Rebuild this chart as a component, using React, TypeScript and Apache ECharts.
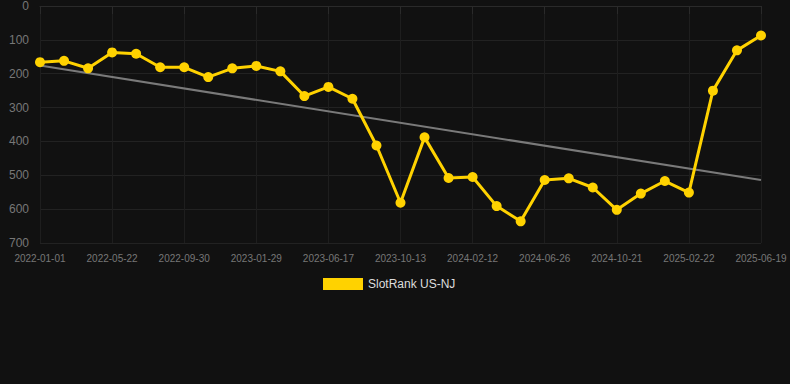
import React, { useEffect, useRef } from "react";
import * as echarts from "echarts";

const categories: string[] = [
  "2022-01-01", "2022-02-17", "2022-04-05", "2022-05-22", "2022-07-05", "2022-08-17",
  "2022-09-30", "2022-11-09", "2022-12-19", "2023-01-29", "2023-03-15", "2023-05-01",
  "2023-06-17", "2023-07-27", "2023-09-04", "2023-10-13", "2023-11-23", "2024-01-02",
  "2024-02-12", "2024-03-28", "2024-05-12", "2024-06-26", "2024-08-04", "2024-09-12",
  "2024-10-21", "2024-12-01", "2025-01-11", "2025-02-22", "2025-04-01", "2025-05-10",
  "2025-06-19",
];

const rankValues: number[] = [
  166, 162, 184, 137, 141, 181, 181, 210, 184, 177, 193, 266, 239, 274, 412, 581,
  388, 508, 505, 591, 636, 514, 509, 536, 602, 554, 517, 551, 250, 131, 87,
];

const trendStart = 176;
const trendEnd = 514;

const yTicks = { min: 0, max: 700, interval: 100 };

export default function App() {
  const ref = useRef<HTMLDivElement>(null);
  useEffect(() => {
    if (!ref.current) return;
    const chart = echarts.init(ref.current, undefined, { renderer: "svg" });
    const trendData = categories.map((_, i) =>
      i === 0 ? trendStart : i === categories.length - 1 ? trendEnd : null
    );
    chart.setOption({
      animation: false,
      backgroundColor: "#111111",
      textStyle: { fontFamily: "'Liberation Sans', Arial, sans-serif" },
      grid: { left: 40, right: 29, top: 6, bottom: 141, containLabel: false },
      legend: {
        data: [{ name: "SlotRank US-NJ" }],
        icon: "rect",
        itemWidth: 40,
        itemHeight: 12,
        left: 318,
        top: 273,
        textStyle: { color: "#dddddd", fontSize: 12 },
      },
      xAxis: {
        type: "category",
        data: categories,
        boundaryGap: false,
        axisLine: { show: true, lineStyle: { color: "#2a2a2a" } },
        axisTick: { show: true, interval: 2, length: 8, lineStyle: { color: "#2a2a2a" } },
        axisLabel: { interval: 2, color: "#777777", fontSize: 10, margin: 10 },
        splitLine: { show: true, interval: 2, lineStyle: { color: "#1e1e1e" } },
      },
      yAxis: {
        type: "value",
        inverse: true,
        min: yTicks.min,
        max: yTicks.max,
        interval: yTicks.interval,
        axisLine: { show: false },
        axisTick: { show: false },
        axisLabel: { color: "#777777", fontSize: 12, margin: 11 },
        splitLine: { show: true, lineStyle: { color: "#222222" } },
      },
      series: [
        {
          name: "SlotRank US-NJ",
          type: "line",
          data: rankValues,
          color: "#ffd200",
          lineStyle: { width: 3, color: "#ffd200" },
          itemStyle: { color: "#ffd200" },
          symbol: "circle",
          symbolSize: 10,
          z: 3,
        },
        {
          name: "Trend",
          type: "line",
          data: trendData,
          connectNulls: true,
          symbol: "none",
          lineStyle: { width: 2, color: "#7a7a7a" },
          z: 2,
        },
      ],
    });
    return () => chart.dispose();
  }, []);
  return (
    <div
      ref={ref}
      style={{ position: "fixed", left: 0, top: 0, width: 790, height: 384 }}
    />
  );
}
